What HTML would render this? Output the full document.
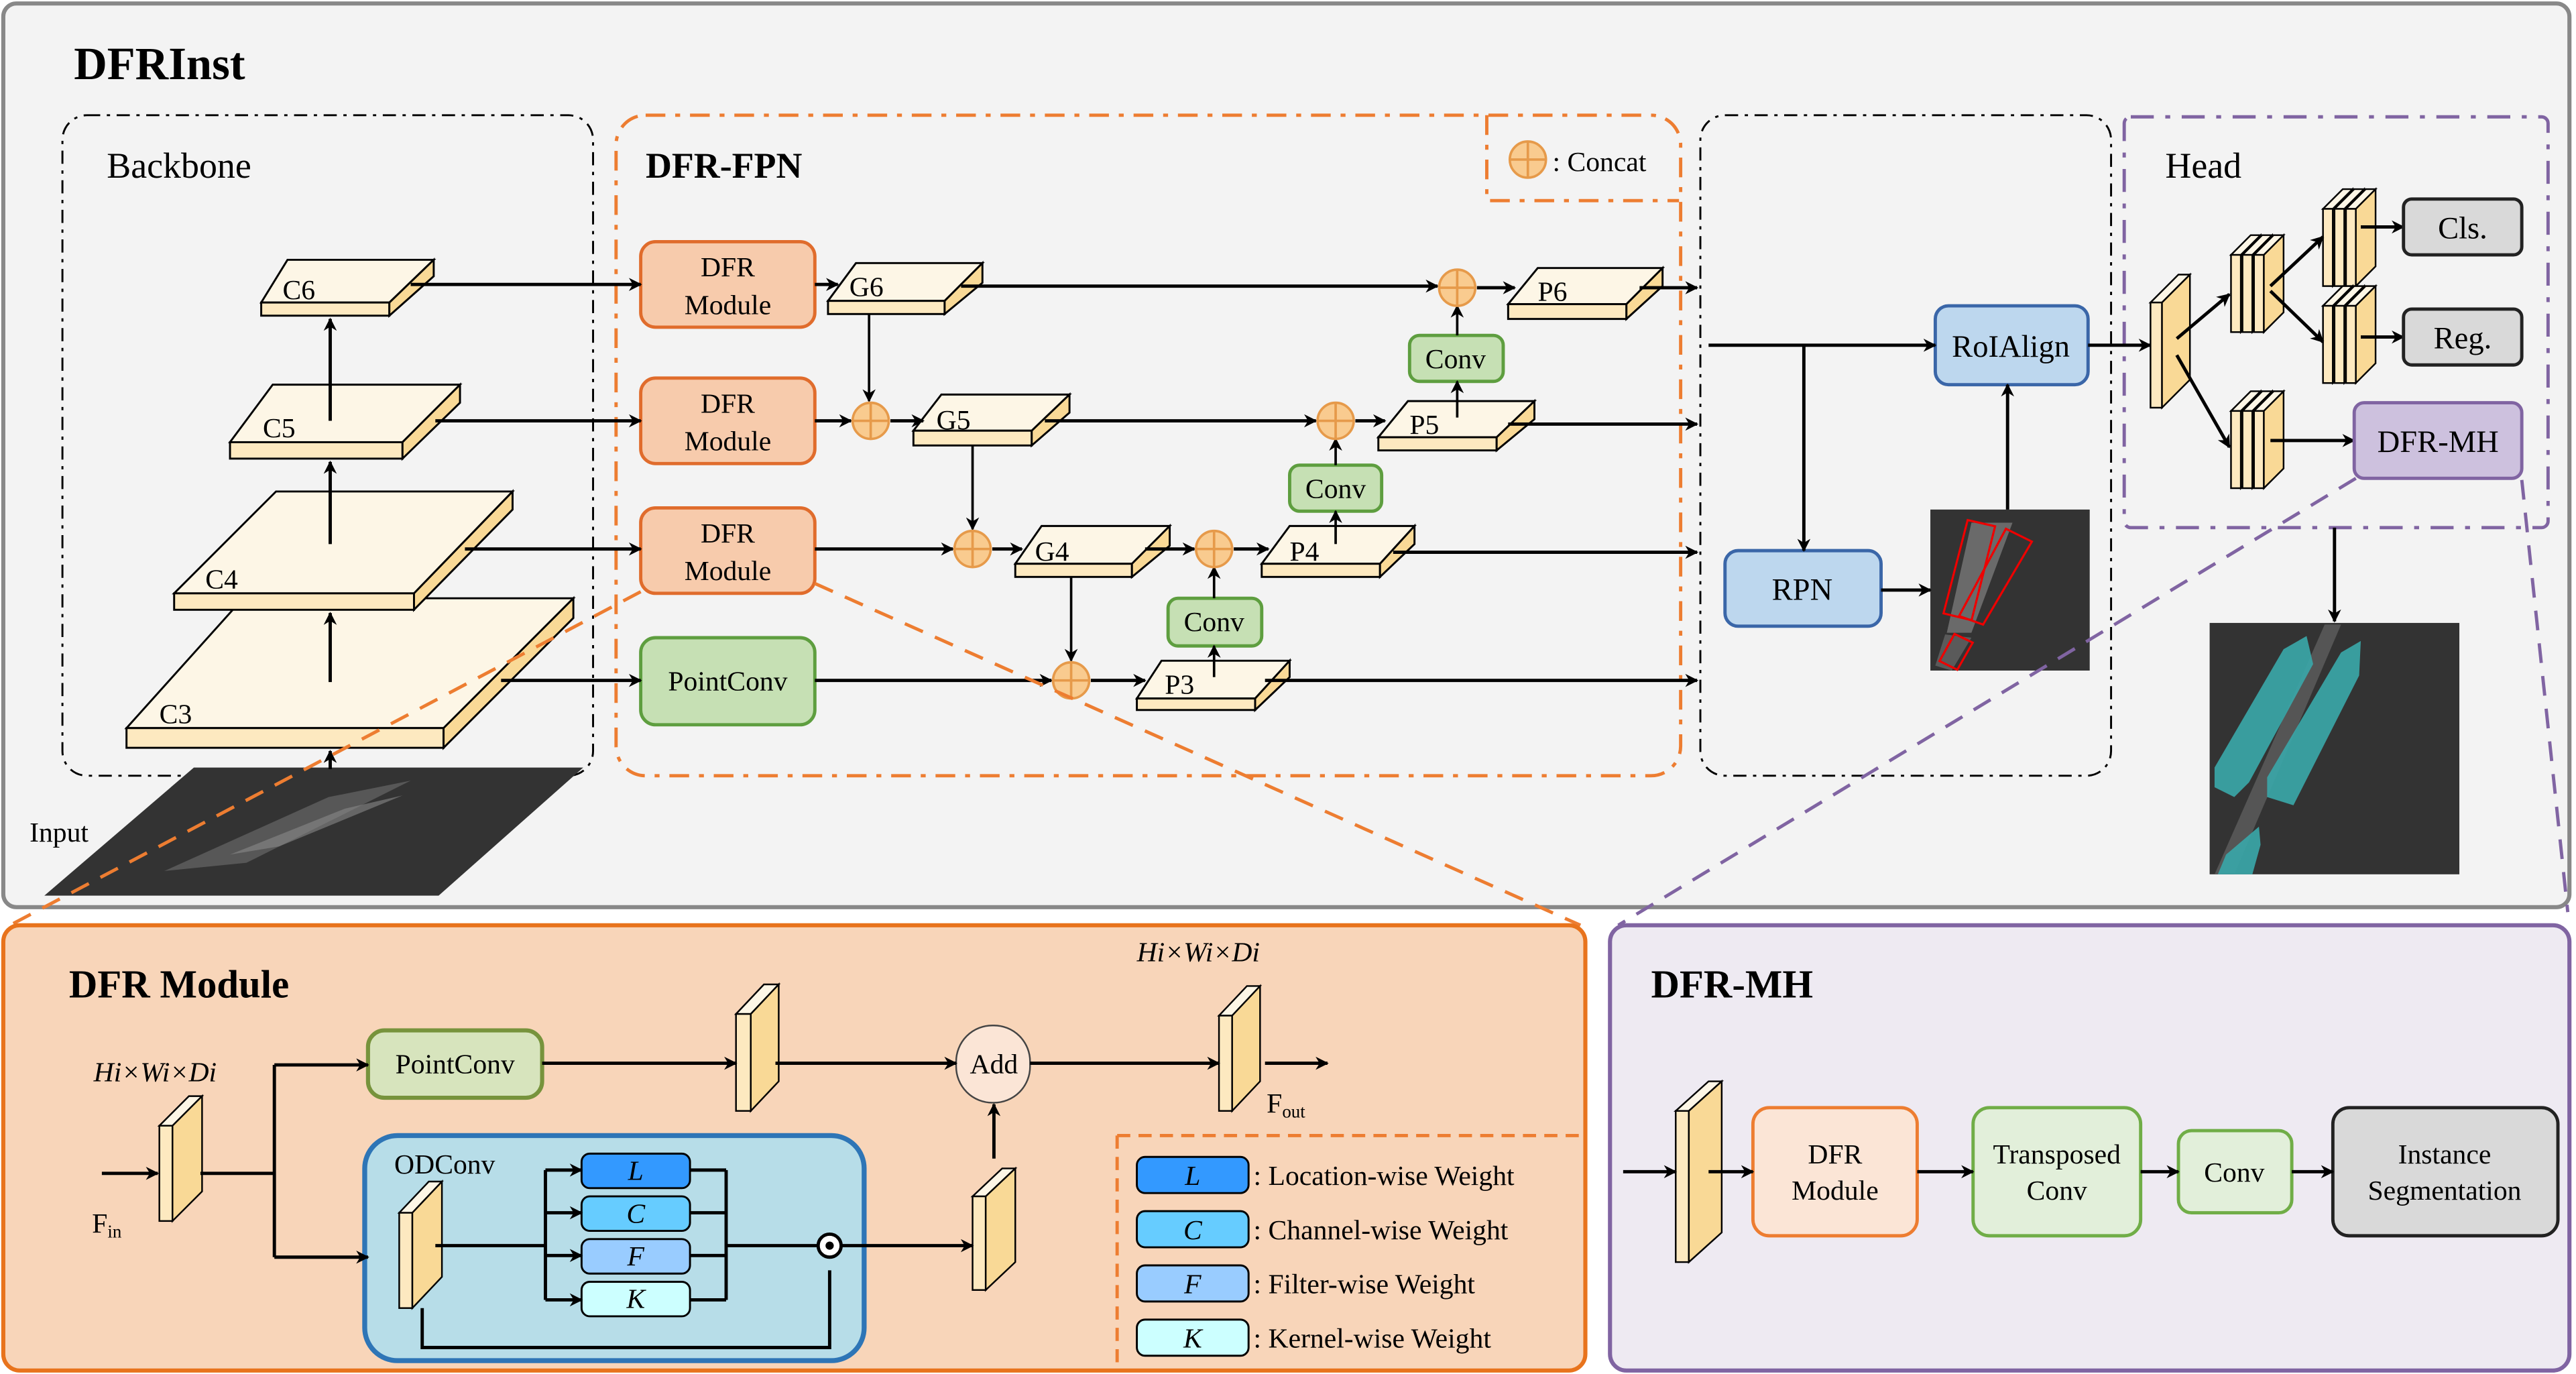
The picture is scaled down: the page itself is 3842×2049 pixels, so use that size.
<!DOCTYPE html>
<html><head><meta charset="utf-8"><style>
html,body{margin:0;padding:0;background:#fff;}
svg{display:block;font-family:"Liberation Serif","Times New Roman",serif;}
svg text{font-family:"Liberation Serif","Times New Roman",serif !important;fill:#000;}
</style></head><body>
<svg width="3842" height="2049" viewBox="0 0 1568 836" xmlns="http://www.w3.org/2000/svg" font-family="Liberation Serif, serif">
<defs>
<marker id="a" viewBox="0 0 10 10" refX="9" refY="5" markerWidth="8" markerHeight="8" markerUnits="userSpaceOnUse" orient="auto"><path d="M0,0 L10,5 L0,10 L3,5 z" fill="#000"/></marker>
<g id="cc"><circle r="11" fill="#f9cb8f" stroke="#e69a4a" stroke-width="1.5"/><path d="M-11,0H11M0,-11V11" stroke="#e69a4a" stroke-width="1.5"/></g>
</defs>
<rect x="2" y="2" width="1562" height="550" rx="8" fill="#f3f3f3" stroke="#888" stroke-width="2.5"/>
<text x="45" y="48" font-size="28" font-weight="bold">DFRInst</text>
<rect x="38" y="70" width="323" height="402" rx="15" fill="none" stroke="#000" stroke-width="1.2" stroke-dasharray="8 4 2 4"/>
<text x="65" y="108" font-size="22">Backbone</text>
<rect x="375" y="70" width="648" height="402" rx="18" fill="none" stroke="#ed7d31" stroke-width="2" stroke-dasharray="12 6 3 6"/>
<path d="M905,70V122H1022" fill="none" stroke="#ed7d31" stroke-width="2" stroke-dasharray="12 6 3 6"/>
<use href="#cc" x="930" y="97"/>
<text x="945" y="104" font-size="17">: Concat</text>
<text x="393" y="108" font-size="22" font-weight="bold">DFR-FPN</text>
<rect x="1035" y="70" width="250" height="402" rx="15" fill="none" stroke="#000" stroke-width="1.2" stroke-dasharray="8 4 2 4"/>
<rect x="1293" y="71" width="258" height="250" rx="4" fill="none" stroke="#8064a2" stroke-width="2" stroke-dasharray="14 7 3 7"/>
<text x="1318" y="108" font-size="22">Head</text>

<polygon points="118,467 355,467 267,545 27,545" fill="#333"/>
<polygon points="200,485 250,475 150,525 100,530" fill="#666" opacity=".7"/>
<polygon points="210,492 245,484 170,515 140,520" fill="#888" opacity=".6"/>
<text x="18" y="512" font-size="17">Input</text>

<g stroke="#000" stroke-width="1.2">
<g><polygon points="159,184 237,184 264,158 175,158" fill="#fdf6e6"/><rect x="159" y="184" width="78" height="8" fill="#fde9c0"/><polygon points="237,184 264,158 264,168 237,192" fill="#f9d996"/></g>
<g><polygon points="140,269 245,269 280,234 166,234" fill="#fdf6e6"/><rect x="140" y="269" width="105" height="10" fill="#fde9c0"/><polygon points="245,269 280,234 280,245 245,279" fill="#f9d996"/></g>
<g><polygon points="77,443 270,443 349,364 148,364" fill="#fdf6e6"/><rect x="77" y="443" width="193" height="12" fill="#fde9c0"/><polygon points="270,443 349,364 349,376 270,455" fill="#f9d996"/></g>
<g><polygon points="106,361 252,361 312,299 168,299" fill="#fdf6e6"/><rect x="106" y="361" width="146" height="10" fill="#fde9c0"/><polygon points="252,361 312,299 312,310 252,371" fill="#f9d996"/></g>
<g><polygon points="504,183 575,183 598,160 521,160" fill="#fdf6e6"/><rect x="504" y="183" width="71" height="8" fill="#fde9c0"/><polygon points="575,183 598,160 598,172 575,191" fill="#f9d996"/></g>
<g><polygon points="556,262 628,262 651,240 573,240" fill="#fdf6e6"/><rect x="556" y="262" width="72" height="9" fill="#fde9c0"/><polygon points="628,262 651,240 651,251 628,271" fill="#f9d996"/></g>
<g><polygon points="618,343 689,343 712,320 634,320" fill="#fdf6e6"/><rect x="618" y="343" width="71" height="8" fill="#fde9c0"/><polygon points="689,343 712,320 712,332 689,351" fill="#f9d996"/></g>
<g><polygon points="692,425 764,425 785,402 707,402" fill="#fdf6e6"/><rect x="692" y="425" width="72" height="7" fill="#fde9c0"/><polygon points="764,425 785,402 785,412 764,432" fill="#f9d996"/></g>
<g><polygon points="768,343 840,343 861,320 785,320" fill="#fdf6e6"/><rect x="768" y="343" width="72" height="8" fill="#fde9c0"/><polygon points="840,343 861,320 861,331 840,351" fill="#f9d996"/></g>
<g><polygon points="839,266 911,266 934,244 857,244" fill="#fdf6e6"/><rect x="839" y="266" width="72" height="8" fill="#fde9c0"/><polygon points="911,266 934,244 934,255 911,274" fill="#f9d996"/></g>
<g><polygon points="918,185 990,185 1012,163 936,163" fill="#fdf6e6"/><rect x="918" y="185" width="72" height="9" fill="#fde9c0"/><polygon points="990,185 1012,163 1012,174 990,194" fill="#f9d996"/></g>
</g>
<g font-size="17">
<text x="172" y="182">C6</text><text x="160" y="266">C5</text><text x="125" y="358">C4</text><text x="97" y="440">C3</text>
<text x="517" y="180">G6</text><text x="570" y="261">G5</text><text x="630" y="341">G4</text>
<text x="709" y="422">P3</text><text x="785" y="341">P4</text><text x="858" y="264">P5</text><text x="936" y="183">P6</text>
</g>

<g stroke="#e06c2c" stroke-width="2" fill="#f7cbac">
<rect x="390" y="147" width="106" height="52" rx="9"/><rect x="390" y="230" width="106" height="52" rx="9"/><rect x="390" y="309" width="106" height="52" rx="9"/>
</g>
<rect x="390" y="388" width="106" height="53" rx="9" fill="#c6e0b4" stroke="#5e9e3f" stroke-width="2"/>
<g font-size="17" text-anchor="middle">
<text x="443" y="168">DFR</text><text x="443" y="191">Module</text>
<text x="443" y="251">DFR</text><text x="443" y="274">Module</text>
<text x="443" y="330">DFR</text><text x="443" y="353">Module</text>
<text x="443" y="420">PointConv</text>
</g>
<g fill="#c6e0b4" stroke="#5e9e3f" stroke-width="2">
<rect x="858" y="204" width="57" height="28" rx="6"/><rect x="785" y="283" width="56" height="28" rx="6"/><rect x="711" y="364" width="57" height="29" rx="6"/>
</g>
<g font-size="17" text-anchor="middle"><text x="886" y="224">Conv</text><text x="813" y="303">Conv</text><text x="739" y="384">Conv</text></g>

<g stroke="#000" stroke-width="2" fill="none" marker-end="url(#a)">
<path d="M250,173H390"/><path d="M265,256H390"/><path d="M283,334H390"/><path d="M305,414H390"/>
<path d="M201,415V373"/><path d="M201,331V281"/><path d="M201,256V194"/><path d="M201,468V457"/>
<path d="M496,173H510"/><path d="M585,174H875"/><path d="M899,175H922"/><path d="M998,175H1033"/>
<path d="M496,256H518"/><path d="M542,256H562"/><path d="M636,256H801"/><path d="M825,256H843"/><path d="M918,258H1033"/>
<path d="M496,334H580"/><path d="M604,334H622"/><path d="M697,334H727"/><path d="M751,334H772"/><path d="M848,336H1033"/>
<path d="M496,414H640"/><path d="M664,414H697"/><path d="M770,414H1033"/>
</g>
<g stroke="#000" stroke-width="1.5" fill="none" marker-end="url(#a)">
<path d="M529,191V244"/><path d="M592,271V322"/><path d="M652,351V402"/>
<path d="M739,412V393"/><path d="M739,364V345"/>
<path d="M813,331V311"/><path d="M813,283V267"/>
<path d="M887,254V232"/><path d="M887,204V186"/>
</g>
<use href="#cc" x="530" y="256"/><use href="#cc" x="887" y="175"/><use href="#cc" x="813" y="256"/>
<use href="#cc" x="592" y="334"/><use href="#cc" x="739" y="334"/><use href="#cc" x="652" y="414"/>

<rect x="1178" y="186" width="93" height="48" rx="8" fill="#bdd7ee" stroke="#3a66a8" stroke-width="2"/>
<text x="1224" y="217" font-size="19" text-anchor="middle">RoIAlign</text>
<rect x="1050" y="335" width="95" height="46" rx="8" fill="#bdd7ee" stroke="#3a66a8" stroke-width="2"/>
<text x="1097" y="365" font-size="19" text-anchor="middle">RPN</text>
<rect x="1175" y="310" width="97" height="98" fill="#333"/>
<polygon points="1200,318 1225,318 1200,385 1185,385" fill="#6a6a6a"/>
<polygon points="1184,386 1200,388 1188,408 1178,405" fill="#5a5a5a"/>
<g fill="none" stroke="#e00" stroke-width="1.3">
<polygon points="1197.7,316.4 1214.4,320.2 1200.1,377.3 1183,373.2"/>
<polygon points="1221,321.7 1236.8,329.5 1207.1,380 1192.5,374.8"/>
<polygon points="1189.7,385.7 1200.8,391 1191.4,407.5 1180.6,402.2"/>
</g>
<g stroke="#000" stroke-width="2" fill="none" marker-end="url(#a)">
<path d="M1040,210H1178"/><path d="M1098,210V335"/><path d="M1145,359H1175"/><path d="M1222,310V234"/><path d="M1271,210H1309"/>
<path d="M1421,321V378"/>
</g>

<g stroke="#000" stroke-width="1">
<polygon points="1309,184 1326,167 1333,167 1316,184" fill="#fdf6e6"/><rect x="1309" y="184" width="7" height="64" fill="#fde9c0"/><polygon points="1316,184 1333,167 1333,231 1316,248" fill="#f9d996"/>
</g>
<g id="stk" stroke="#000" stroke-width="1">
<polygon points="1358,155 1370,143 1376,143 1364,155" fill="#fdf6e6"/><rect x="1358" y="155" width="6" height="47" fill="#fde9c0"/><polygon points="1364,155 1376,143 1376,190 1364,202" fill="#f9d996"/>
<polygon points="1365,155 1377,143 1383,143 1371,155" fill="#fdf6e6"/><rect x="1365" y="155" width="6" height="47" fill="#fde9c0"/><polygon points="1371,155 1383,143 1383,190 1371,202" fill="#f9d996"/>
<polygon points="1372,155 1384,143 1390,143 1378,155" fill="#fdf6e6"/><rect x="1372" y="155" width="6" height="47" fill="#fde9c0"/><polygon points="1378,155 1390,143 1390,190 1378,202" fill="#f9d996"/>
</g>
<use href="#stk" x="56" y="-28"/><use href="#stk" x="56" y="31"/><use href="#stk" x="0" y="95"/>
<g stroke="#000" stroke-width="2" fill="none" marker-end="url(#a)">
<path d="M1325,206L1357,179"/><path d="M1325,216L1357,272"/><path d="M1382,174L1414,144"/><path d="M1382,177L1414,208"/>
<path d="M1437,138H1463"/><path d="M1437,205H1463"/><path d="M1382,268H1433"/>
</g>
<rect x="1463" y="121" width="72" height="34" rx="5" fill="#d9d9d9" stroke="#222" stroke-width="2"/>
<text x="1499" y="145" font-size="19" text-anchor="middle">Cls.</text>
<rect x="1463" y="188" width="72" height="34" rx="5" fill="#d9d9d9" stroke="#222" stroke-width="2"/>
<text x="1499" y="212" font-size="19" text-anchor="middle">Reg.</text>
<rect x="1433" y="245" width="102" height="46" rx="6" fill="#cdc1de" stroke="#8064a2" stroke-width="2"/>
<text x="1484" y="275" font-size="19" text-anchor="middle">DFR-MH</text>

<rect x="1345" y="379" width="152" height="153" fill="#333"/>
<polygon points="1415,380 1425,380 1360,532 1348,532" fill="#555"/>
<g fill="#3aa6a8" opacity=".92">
<polygon points="1404,387 1408,404 1369,476 1360,485 1348,479 1348,467 1390,395"/>
<polygon points="1437,390 1436,411 1396,490 1380,485 1380,473 1425,397"/>
<polygon points="1375,503 1376,514 1371,532 1350,532 1355,520"/>
</g>

<g fill="none" stroke-width="2" stroke-dasharray="12 8">
<path d="M390,360L8,562" stroke="#ed7d31"/><path d="M496,355L962,563" stroke="#ed7d31"/>
<path d="M1434,291L985,563" stroke="#8064a2"/><path d="M1535,292L1563,555" stroke="#8064a2"/>
</g>

<rect x="2" y="563" width="963" height="271" rx="10" fill="#f8d5b9" stroke="#e8731c" stroke-width="2.5"/>
<text x="42" y="607" font-size="24" font-weight="bold">DFR Module</text>
<text x="57" y="658" font-size="17" font-style="italic">Hi×Wi×Di</text>
<text x="692" y="585" font-size="17" font-style="italic">Hi×Wi×Di</text>
<text x="56" y="750" font-size="17">F<tspan font-size="11" dy="3">in</tspan></text>
<text x="771" y="677" font-size="17">F<tspan font-size="11" dy="3">out</tspan></text>
<g stroke="#000" stroke-width="1">
<polygon points="97,685 115,667 123,667 105,685" fill="#fdf6e6"/><rect x="97" y="685" width="8" height="58" fill="#fde9c0"/><polygon points="105,685 123,667 123,725 105,743" fill="#f9d996"/>
<polygon points="448,617 465,599 474,599 457,617" fill="#fdf6e6"/><rect x="448" y="617" width="9" height="59" fill="#fde9c0"/><polygon points="457,617 474,599 474,658 457,676" fill="#f9d996"/>
<polygon points="742,618 759,600 767,600 750,618" fill="#fdf6e6"/><rect x="742" y="618" width="8" height="58" fill="#fde9c0"/><polygon points="750,618 767,600 767,658 750,676" fill="#f9d996"/>
</g>
<rect x="224" y="627" width="106" height="41" rx="10" fill="#d7e4bd" stroke="#77933c" stroke-width="2.5"/>
<text x="277" y="653" font-size="17" text-anchor="middle">PointConv</text>
<rect x="582" y="624" width="45" height="47" rx="22" fill="#fbe5d6" stroke="#444" stroke-width="1"/>
<text x="605" y="653" font-size="17" text-anchor="middle">Add</text>
<rect x="222" y="691" width="304" height="137" rx="20" fill="#b7dde8" stroke="#2e75b6" stroke-width="3"/>
<text x="240" y="714" font-size="17">ODConv</text>
<g stroke="#000" stroke-width="1">
<polygon points="243,738 261,719 269,719 251,738" fill="#fdf6e6"/><rect x="243" y="738" width="8" height="58" fill="#fde9c0"/><polygon points="251,738 269,719 269,777 251,796" fill="#f9d996"/>
<polygon points="592,728 610,711 618,711 600,728" fill="#fdf6e6"/><rect x="592" y="728" width="8" height="57" fill="#fde9c0"/><polygon points="600,728 618,711 618,768 600,785" fill="#f9d996"/>
</g>
<g stroke="#000" stroke-width="1.2">
<rect x="354" y="702" width="66" height="21" rx="5" fill="#3399ff"/>
<rect x="354" y="728" width="66" height="21" rx="5" fill="#66ccff"/>
<rect x="354" y="754" width="66" height="21" rx="5" fill="#99ccff"/>
<rect x="354" y="780" width="66" height="21" rx="5" fill="#ccffff"/>
</g>
<g font-size="17" font-style="italic" text-anchor="middle">
<text x="387" y="718">L</text><text x="387" y="744">C</text><text x="387" y="770">F</text><text x="387" y="796">K</text>
</g>
<g stroke="#000" stroke-width="2" fill="none">
<path d="M122,714H167M167,648V765"/>
<path d="M265,758H332M332,712V791"/>
<path d="M420,712H442M420,738H442M420,764H442M420,791H442M442,712V791M442,758H498"/>
<path d="M257,796V820H505V773"/>
<path d="M605,705V672" marker-end="url(#a)"/>
</g>
<g stroke="#000" stroke-width="2" fill="none" marker-end="url(#a)">
<path d="M62,714H96"/><path d="M167,648H224"/><path d="M167,765H224"/>
<path d="M330,647H448"/><path d="M472,647H582"/><path d="M627,647H742"/><path d="M770,647H808"/>
<path d="M332,712H354"/><path d="M332,738H354"/><path d="M332,764H354"/><path d="M332,791H354"/>
<path d="M512,758H592"/>
</g>
<circle cx="505" cy="758" r="7" fill="#fff" stroke="#000" stroke-width="2"/><circle cx="505" cy="758" r="2.5" fill="#000"/>
<path d="M680,691H965M680,691V834" fill="none" stroke="#ed7d31" stroke-width="2" stroke-dasharray="8 5"/>
<g stroke="#000" stroke-width="1.2">
<rect x="692" y="704" width="68" height="22" rx="5" fill="#3399ff"/>
<rect x="692" y="737" width="68" height="22" rx="5" fill="#66ccff"/>
<rect x="692" y="770" width="68" height="22" rx="5" fill="#99ccff"/>
<rect x="692" y="803" width="68" height="22" rx="5" fill="#ccffff"/>
</g>
<g font-size="17" font-style="italic" text-anchor="middle">
<text x="726" y="721">L</text><text x="726" y="754">C</text><text x="726" y="787">F</text><text x="726" y="820">K</text>
</g>
<g font-size="17">
<text x="763" y="721">: Location-wise Weight</text><text x="763" y="754">: Channel-wise Weight</text>
<text x="763" y="787">: Filter-wise Weight</text><text x="763" y="820">: Kernel-wise Weight</text>
</g>

<rect x="980" y="563" width="584" height="271" rx="10" fill="#eeeaf2" stroke="#8064a2" stroke-width="2.5"/>
<text x="1005" y="607" font-size="24" font-weight="bold">DFR-MH</text>
<g stroke="#000" stroke-width="1">
<polygon points="1020,676 1040,658 1048,658 1028,676" fill="#fdf6e6"/><rect x="1020" y="676" width="8" height="92" fill="#fde9c0"/><polygon points="1028,676 1048,658 1048,750 1028,768" fill="#f9d996"/>
</g>
<rect x="1067" y="674" width="100" height="78" rx="10" fill="#fbe5d6" stroke="#ed7d31" stroke-width="2"/>
<text x="1117" y="708" font-size="17" text-anchor="middle">DFR</text><text x="1117" y="730" font-size="17" text-anchor="middle">Module</text>
<rect x="1201" y="674" width="102" height="78" rx="10" fill="#e2efda" stroke="#70ad47" stroke-width="2"/>
<text x="1252" y="708" font-size="17" text-anchor="middle">Transposed</text><text x="1252" y="730" font-size="17" text-anchor="middle">Conv</text>
<rect x="1326" y="688" width="69" height="50" rx="8" fill="#e2efda" stroke="#70ad47" stroke-width="2"/>
<text x="1360" y="719" font-size="17" text-anchor="middle">Conv</text>
<rect x="1420" y="674" width="137" height="78" rx="10" fill="#d9d9d9" stroke="#222" stroke-width="2"/>
<text x="1488" y="708" font-size="17" text-anchor="middle">Instance</text><text x="1488" y="730" font-size="17" text-anchor="middle">Segmentation</text>
<g stroke="#000" stroke-width="2" fill="none" marker-end="url(#a)">
<path d="M988,713H1020"/><path d="M1040,713H1067"/><path d="M1167,713H1201"/><path d="M1303,713H1326"/><path d="M1395,713H1420"/>
</g>
</svg>
</body></html>
